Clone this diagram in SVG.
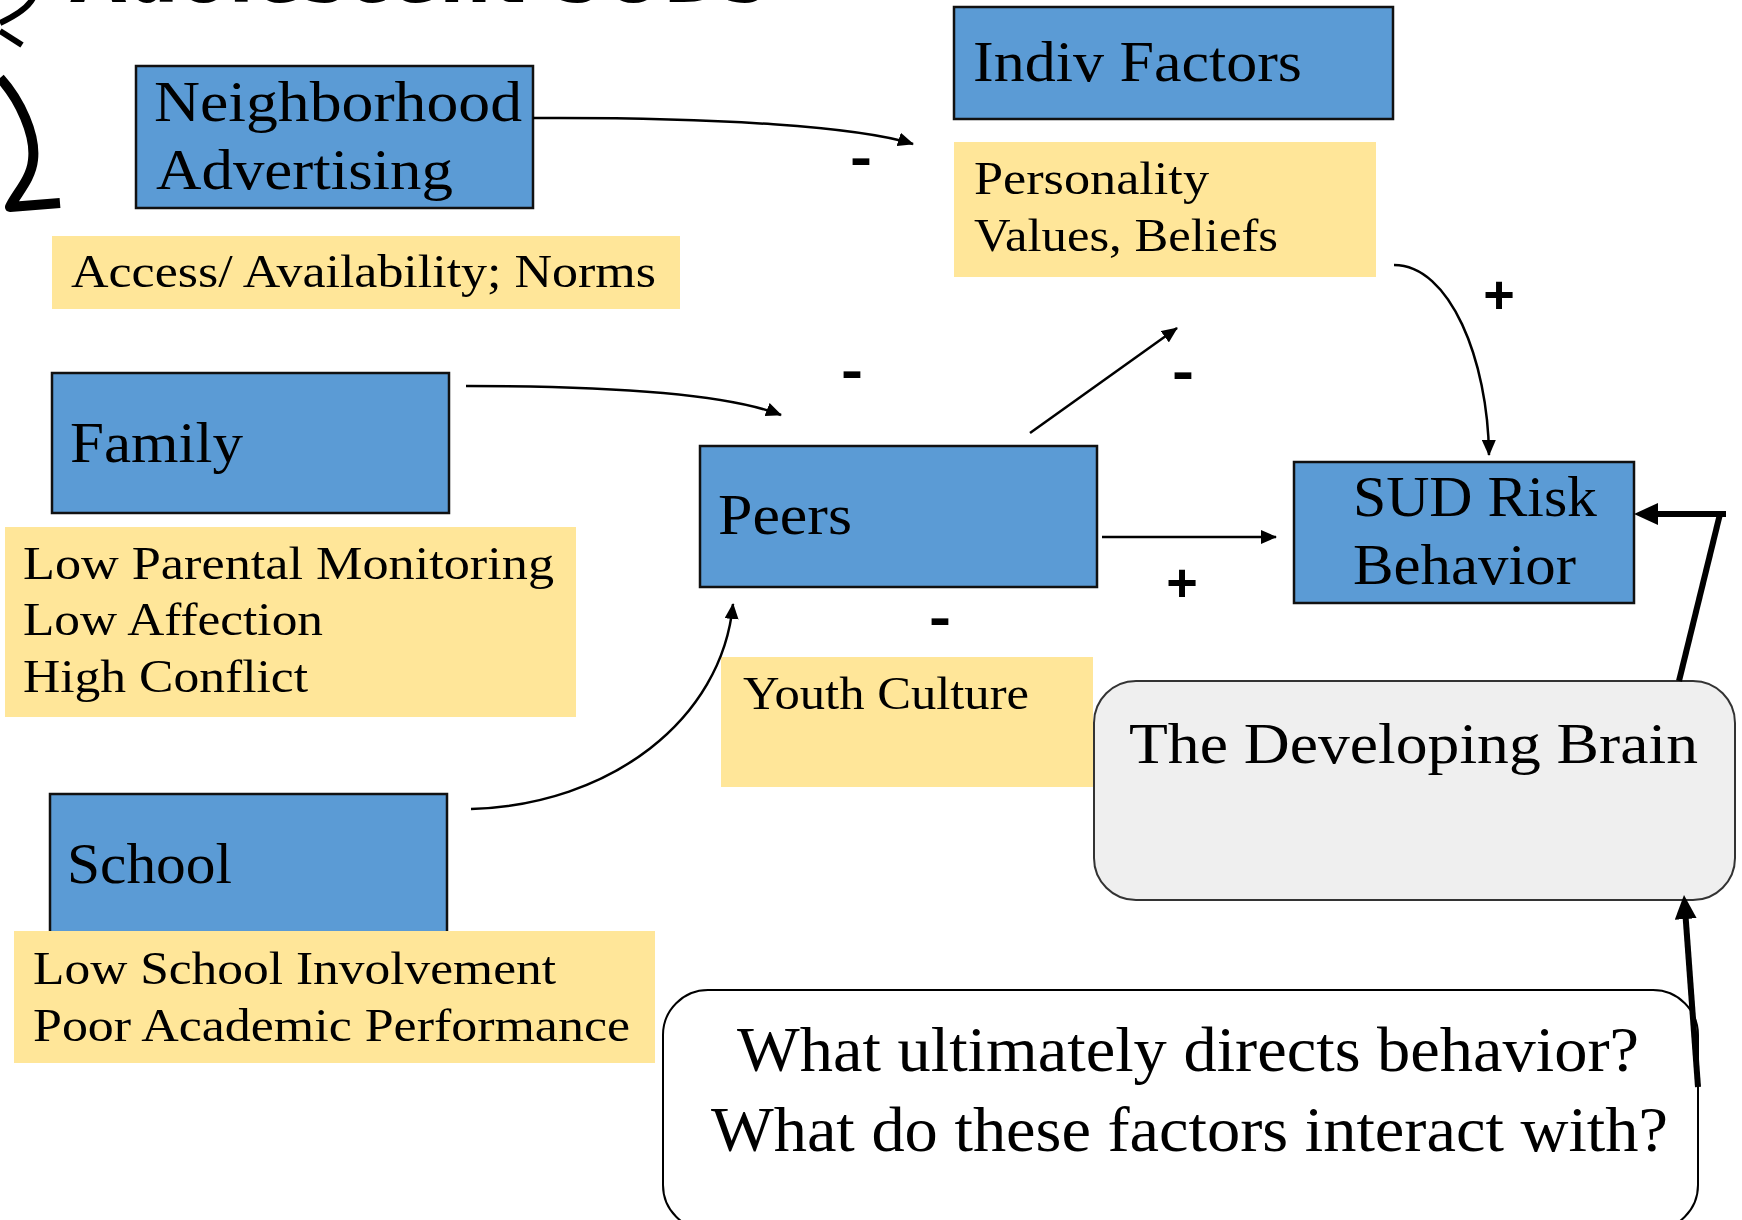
<svg xmlns="http://www.w3.org/2000/svg" width="1742" height="1220" viewBox="0 0 1742 1220">
<style>
.blue{fill:#5B9BD5;stroke:#111;stroke-width:2.5}
.yel{fill:#FFE699}
.t{font-family:"Liberation Serif","Times New Roman",serif;fill:#000}
.big{font-size:58px}
.med{font-size:46px}
.q{font-size:64px}
.conn{fill:none;stroke:#000;stroke-width:2.5}
.thick{fill:none;stroke:#000;stroke-width:6}
.sign{font-family:"Liberation Sans",Arial,sans-serif;font-weight:bold;fill:#000;text-anchor:middle}
.brace{fill:none;stroke:#000;stroke-linecap:butt;stroke-linejoin:round}
</style>
<defs>
<marker id="ah" markerUnits="userSpaceOnUse" markerWidth="16" markerHeight="14" viewBox="0 0 16 14" refX="15" refY="7" orient="auto">
<path d="M0,0 L16,7 L0,14 z" fill="#000"/>
</marker>
<marker id="ahb" markerUnits="userSpaceOnUse" markerWidth="24" markerHeight="22" viewBox="0 0 24 22" refX="2" refY="11" orient="auto">
<path d="M0,0 L24,11 L0,22 z" fill="#000"/>
</marker>
</defs>

<g id="title">
<text x="70" y="2" font-family="DejaVu Sans, sans-serif" font-weight="bold" font-size="84" textLength="697" lengthAdjust="spacingAndGlyphs">Adolescent SUDs</text>
<path class="brace" stroke-width="6" d="M33 -2 C28 8, 15 16, 0 23"/>
<path class="brace" stroke-width="6" d="M0 31 L22 45"/>
<path class="brace" stroke-width="10" d="M0 78 C20 100, 36 135, 33 160 C31 180, 15 195, 10 207 L60 203"/>
</g>

<g id="neighborhood">
<rect class="blue" x="136" y="66" width="397" height="142"/>
<text class="t big" x="154" y="121" textLength="368" lengthAdjust="spacingAndGlyphs">Neighborhood</text>
<text class="t big" x="156" y="189" textLength="297" lengthAdjust="spacingAndGlyphs">Advertising</text>
</g>
<g id="neighborhood-factors">
<rect class="yel" x="52" y="236" width="628" height="73"/>
<text class="t med" x="71" y="287" textLength="585" lengthAdjust="spacingAndGlyphs">Access/ Availability; Norms</text>
</g>

<g id="indiv">
<rect class="blue" x="954" y="7" width="439" height="112"/>
<text class="t big" x="973" y="81" textLength="329" lengthAdjust="spacingAndGlyphs">Indiv Factors</text>
</g>
<g id="indiv-factors">
<rect class="yel" x="954" y="142" width="422" height="135"/>
<text class="t med" x="974" y="194" textLength="235" lengthAdjust="spacingAndGlyphs">Personality</text>
<text class="t med" x="974" y="251" textLength="304" lengthAdjust="spacingAndGlyphs">Values, Beliefs</text>
</g>

<g id="family">
<rect class="blue" x="52" y="373" width="397" height="140"/>
<text class="t big" x="70" y="462" textLength="173" lengthAdjust="spacingAndGlyphs">Family</text>
</g>
<g id="family-factors">
<rect class="yel" x="5" y="527" width="571" height="190"/>
<text class="t med" x="23" y="579" textLength="531" lengthAdjust="spacingAndGlyphs">Low Parental Monitoring</text>
<text class="t med" x="23" y="635" textLength="300" lengthAdjust="spacingAndGlyphs">Low Affection</text>
<text class="t med" x="23" y="692" textLength="285" lengthAdjust="spacingAndGlyphs">High Conflict</text>
</g>

<g id="peers">
<rect class="blue" x="700" y="446" width="397" height="141"/>
<text class="t big" x="718" y="534" textLength="134" lengthAdjust="spacingAndGlyphs">Peers</text>
</g>
<g id="youth-culture">
<rect class="yel" x="721" y="657" width="372" height="130"/>
<text class="t med" x="743" y="709" textLength="286" lengthAdjust="spacingAndGlyphs">Youth Culture</text>
</g>

<g id="school">
<rect class="blue" x="50" y="794" width="397" height="150"/>
<text class="t big" x="67" y="883" textLength="165" lengthAdjust="spacingAndGlyphs">School</text>
</g>
<g id="school-factors">
<rect class="yel" x="14" y="931" width="641" height="132"/>
<text class="t med" x="33" y="984" textLength="523" lengthAdjust="spacingAndGlyphs">Low School Involvement</text>
<text class="t med" x="33" y="1041" textLength="597" lengthAdjust="spacingAndGlyphs">Poor Academic Performance</text>
</g>

<g id="sud">
<rect class="blue" x="1294" y="462" width="340" height="141"/>
<text class="t big" x="1353" y="516" textLength="244" lengthAdjust="spacingAndGlyphs">SUD Risk</text>
<text class="t big" x="1353" y="584" textLength="223" lengthAdjust="spacingAndGlyphs">Behavior</text>
</g>

<g id="brain">
<rect x="1094" y="681" width="641" height="219" rx="42" ry="42" fill="#EFEFEF" stroke="#333" stroke-width="2"/>
<text class="t big" x="1129" y="763" textLength="569" lengthAdjust="spacingAndGlyphs">The Developing Brain</text>
</g>

<g id="question">
<rect x="663" y="990" width="1035" height="240" rx="45" ry="45" fill="#fff" stroke="#000" stroke-width="2"/>
<text class="t q" x="737" y="1071" textLength="902" lengthAdjust="spacingAndGlyphs">What ultimately directs behavior?</text>
<text class="t q" x="711" y="1151" textLength="957" lengthAdjust="spacingAndGlyphs">What do these factors interact with?</text>
</g>

<g id="connectors">
<path class="conn" marker-end="url(#ah)" d="M533 118 C720 117, 860 127, 913 144"/>
<path class="conn" marker-end="url(#ah)" d="M466 386 C620 386, 730 395, 781 415"/>
<path class="conn" marker-end="url(#ah)" d="M471 809 C610 805, 722 720, 733 604"/>
<path class="conn" marker-end="url(#ah)" d="M1030 433 L1177 328"/>
<path class="conn" marker-end="url(#ah)" d="M1102 537 L1276 537"/>
<path class="conn" marker-end="url(#ah)" d="M1394 265 C1450 265, 1488 360, 1489 455"/>
<path class="thick" marker-end="url(#ahb)" d="M1698 1087 L1685.6 917"/>
<path class="thick" d="M1679 681 L1720 514"/>
<path class="thick" stroke-width="7" marker-end="url(#ahb)" d="M1726 514 L1656 514"/>
<text class="sign" x="861" y="176" font-size="56" textLength="22" lengthAdjust="spacingAndGlyphs">-</text>
<text class="sign" x="852" y="389" font-size="56" textLength="22" lengthAdjust="spacingAndGlyphs">-</text>
<text class="sign" x="1183" y="390" font-size="56" textLength="22" lengthAdjust="spacingAndGlyphs">-</text>
<text class="sign" x="940" y="636" font-size="56" textLength="22" lengthAdjust="spacingAndGlyphs">-</text>
<text class="sign" x="1499" y="313" font-size="54">+</text>
<text class="sign" x="1182" y="601" font-size="54">+</text>
</g>
</svg>
